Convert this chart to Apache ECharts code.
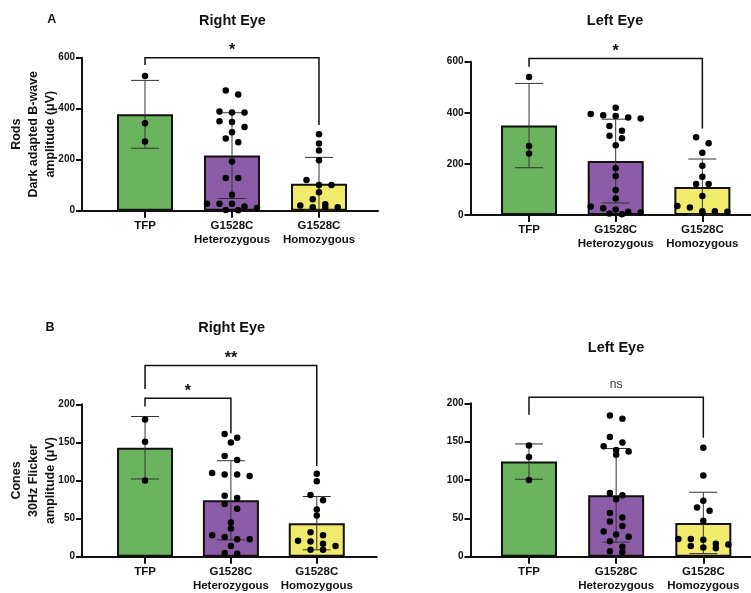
<!DOCTYPE html>
<html><head><meta charset="utf-8">
<script src="https://cdn.jsdelivr.net/npm/echarts@6/dist/echarts.min.js"></script>
<style>html,body{margin:0;padding:0;background:#fff}#c{width:751px;height:593px}</style>
</head><body><div id="c"></div>
<script>
// ---------- DATA ----------
const categories = ['TFP', 'G1528C\nHeterozygous', 'G1528C\nHomozygous'];
const rodsTicks = [0, 200, 400, 600];
const conesTicks = [0, 50, 100, 150, 200];
const rodsYName = 'Rods\nDark adapted B-wave\namplitude (\u03BCV)';
const conesYName = 'Cones\n30Hz Flicker\namplitude (\u03BCV)';

// Rods, right eye
const rodsRightMean = [378, 216, 106];
const rodsRightSD = [133, 168, 103];
const rodsRightTFP = [528, 343, 271];
const rodsRightHet = [471, 456, 389, 385, 385, 351, 348, 328, 308, 283, 268, 193, 128, 128, 63, 27, 27, 27, 16, 11, 3, 2];
const rodsRightHom = [300, 264, 236, 198, 120, 101, 101, 72, 45, 25, 20, 14, 14, 14];
const rodsRightBrackets = [[0, 2, 600, 571, 336, '*']];

// Rods, left eye
const rodsLeftMean = [350, 211, 110];
const rodsLeftSD = [165, 164, 109];
const rodsLeftTFP = [540, 270, 241];
const rodsLeftHet = [420, 395, 390, 387, 382, 378, 348, 330, 310, 300, 273, 183, 153, 98, 65, 33, 26, 22, 13, 10, 6, 3];
const rodsLeftHom = [304, 281, 244, 193, 150, 121, 121, 74, 35, 29, 15, 15, 13, 9];
const rodsLeftBrackets = [[0, 2, 613, 580, 339, '*']];

// Cones, right eye
const conesRightMean = [143, 74, 44];
const conesRightSD = [41, 52, 35];
const conesRightTFP = [180, 151, 100];
const conesRightHet = [161, 156, 150, 132, 127, 110, 108, 108, 106, 80, 77, 69, 63, 45, 37, 28, 26, 23, 23, 14, 5, 4];
const conesRightHom = [109, 99, 81, 74, 62, 54, 32, 28, 21, 20, 17, 14, 9, 9];
const conesRightBrackets = [[0, 1, 208, 197, 162, '*'], [0, 2, 251, 220, 119, '**']];

// Cones, left eye
const conesLeftMean = [124, 80, 44];
const conesLeftSD = [23, 61, 40];
const conesLeftTFP = [145, 130, 100];
const conesLeftHet = [184, 180, 156, 149, 144, 139, 137, 133, 83, 80, 75, 57, 51, 46, 40, 33, 29, 26, 20, 13, 7, 6];
const conesLeftHom = [142, 106, 73, 64, 60, 47, 23, 23, 22, 17, 16, 14, 12, 11];
const conesLeftBrackets = [[0, 2, 208, 185, 155, 'ns']];

// ---------- STYLE / LAYOUT ----------
const FONT = '"Liberation Sans", Arial, Helvetica, sans-serif';
const INK = '#111';
const barColors = ['#6BB35F', '#8D5CA7', '#F1EB6D'];
const DOT_SPACING = 12.5, ROW_PX = 6;

const panels = [
  {mean: rodsRightMean, sd: rodsRightSD, groups: [rodsRightTFP, rodsRightHet, rodsRightHom], brackets: rodsRightBrackets,
   ticks: rodsTicks, yName: rodsYName, title: 'Right Eye', titleXY: [232.5, 20.7], letter: 'A', letterXY: [51.7, 20],
   frame: {left: 82, top: 57.7, width: 296, height: 153}, plot: {left: 101.5, width: 261}},
  {mean: rodsLeftMean, sd: rodsLeftSD, groups: [rodsLeftTFP, rodsLeftHet, rodsLeftHom], brackets: rodsLeftBrackets,
   ticks: rodsTicks, yName: '', title: 'Left Eye', titleXY: [615, 20.7],
   frame: {left: 470.5, top: 61.7, width: 281, height: 153.3}, plot: {left: 485.7, width: 260}},
  {mean: conesRightMean, sd: conesRightSD, groups: [conesRightTFP, conesRightHet, conesRightHom], brackets: conesRightBrackets,
   ticks: conesTicks, yName: conesYName, title: 'Right Eye', titleXY: [231.7, 328.3], letter: 'B', letterXY: [50, 327.3],
   frame: {left: 82, top: 404.3, width: 294.7, height: 152.4}, plot: {left: 102.1, width: 257.6}},
  {mean: conesLeftMean, sd: conesLeftSD, groups: [conesLeftTFP, conesLeftHet, conesLeftHom], brackets: conesLeftBrackets,
   ticks: conesTicks, yName: '', title: 'Left Eye', titleXY: [616, 348.3],
   frame: {left: 470.5, top: 403.3, width: 281, height: 153.4}, plot: {left: 485.4, width: 261.5}}
];

function swarm(values, pxPerUnit, bandPx) {
  const sorted = values.slice().sort((a, b) => b - a);
  const out = [];
  let row = [];
  const flush = () => {
    const n = row.length;
    row.forEach((v, k) => out.push([(k - (n - 1) / 2) * DOT_SPACING / bandPx, v]));
    row = [];
  };
  sorted.forEach(v => {
    if (row.length && (row[0] - v) * pxPerUnit >= ROW_PX) flush();
    row.push(v);
  });
  flush();
  return out;
}

const grid = [], xAxis = [], yAxis = [], series = [], graphic = [];

panels.forEach((p, i) => {
  const yMin = p.ticks[0], yMax = p.ticks[p.ticks.length - 1], interval = p.ticks[1] - p.ticks[0];
  grid.push({left: p.frame.left, top: p.frame.top, width: p.frame.width, height: p.frame.height});
  grid.push({left: p.plot.left, top: p.frame.top, width: p.plot.width, height: p.frame.height});
  const gF = 2 * i, gP = 2 * i + 1;
  // frame axes
  xAxis.push({type: 'value', gridIndex: gF, min: 0, max: 1,
    axisLine: {show: true, lineStyle: {color: INK, width: 2}}, axisTick: {show: false},
    axisLabel: {show: false}, splitLine: {show: false}});
  yAxis.push({type: 'value', gridIndex: gF, min: yMin, max: yMax, interval: interval,
    axisLine: {show: true, lineStyle: {color: INK, width: 2}},
    axisTick: {show: true, length: 6, lineStyle: {color: INK, width: 2}},
    axisLabel: {color: INK, fontFamily: FONT, fontWeight: 'bold', fontSize: 10, margin: 7},
    splitLine: {show: false},
    name: p.yName, nameLocation: 'middle', nameRotate: 90, nameGap: 23.5, nameMoveOverlap: false,
    nameTextStyle: {color: INK, fontFamily: FONT, fontWeight: 'bold', fontSize: 12.5, lineHeight: 16.7}});
  // plot axes
  xAxis.push({type: 'category', gridIndex: gP, data: categories,
    axisLine: {show: false},
    axisTick: {show: true, alignWithLabel: true, length: 7, lineStyle: {color: INK, width: 2}},
    axisLabel: {color: INK, fontFamily: FONT, fontWeight: 'bold', fontSize: 11.5, lineHeight: 14, margin: 8, interval: 0},
    splitLine: {show: false}});
  xAxis.push({type: 'value', gridIndex: gP, min: -0.5, max: 2.5, show: false});
  yAxis.push({type: 'value', gridIndex: gP, min: yMin, max: yMax, show: false});
  const xCat = 3 * i + 1, xVal = 3 * i + 2, yP = 2 * i + 1;

  series.push({type: 'bar', xAxisIndex: xCat, yAxisIndex: yP, barWidth: 56, z: 2,
    data: p.mean.map((m, k) => ({value: m, itemStyle: {color: barColors[k]}})),
    itemStyle: {borderColor: INK, borderWidth: 2}, silent: true});

  series.push({type: 'custom', xAxisIndex: xVal, yAxisIndex: yP, z: 3, clip: false, silent: true,
    data: p.mean.map((m, k) => [k, m, p.sd[k]]), encode: {x: 0, y: 1},
    renderItem: (params, api) => {
      const x = api.value(0), m = api.value(1), s = api.value(2);
      const top = api.coord([x, m + s]), bot = api.coord([x, Math.max(yMin, m - s)]);
      const cap = 14, st = {stroke: '#333', lineWidth: 1};
      return {type: 'group', children: [
        {type: 'line', shape: {x1: top[0], y1: top[1], x2: bot[0], y2: bot[1]}, style: st},
        {type: 'line', shape: {x1: top[0] - cap, y1: top[1], x2: top[0] + cap, y2: top[1]}, style: st},
        {type: 'line', shape: {x1: bot[0] - cap, y1: bot[1], x2: bot[0] + cap, y2: bot[1]}, style: st}
      ]};
    }});

  const pxPerUnit = p.frame.height / (yMax - yMin);
  const bandPx = p.plot.width / 3;
  const dots = [];
  p.groups.forEach((g, k) => swarm(g, pxPerUnit, bandPx).forEach(d => dots.push([k + d[0], d[1]])));
  series.push({type: 'scatter', xAxisIndex: xVal, yAxisIndex: yP, z: 4, clip: false, silent: true,
    symbol: 'circle', symbolSize: 6.5, itemStyle: {color: '#000', opacity: 1}, data: dots});

  const br = p.brackets;
  series.push({type: 'custom', xAxisIndex: xVal, yAxisIndex: yP, z: 5, clip: false, silent: true,
    data: br.map(b => [b[0], b[1], b[2], b[3], b[4]]), encode: {x: 0, y: 2},
    renderItem: (params, api) => {
      const f = api.value(0), t = api.value(1), y = api.value(2), l = api.value(3), r = api.value(4);
      const label = br[params.dataIndex][5];
      const a = api.coord([f, l]), b = api.coord([f, y]), c = api.coord([t, y]), d = api.coord([t, r]);
      const isNs = label === 'ns';
      return {type: 'group', children: [
        {type: 'polyline', shape: {points: [a, b, c, d]}, style: {stroke: INK, lineWidth: 1.5, fill: null}},
        {type: 'text', x: (b[0] + c[0]) / 2, y: b[1] - (isNs ? 12 : 7),
         style: {text: label, fill: isNs ? '#333' : INK,
           font: (isNs ? 'normal 12px ' : 'bold 16px ') + FONT,
           textAlign: 'center', align: 'center', textVerticalAlign: 'middle', verticalAlign: 'middle'}}
      ]};
    }});

  graphic.push({type: 'text', x: p.titleXY[0], y: p.titleXY[1],
    style: {text: p.title, font: 'bold 14.5px ' + FONT, fill: INK, textAlign: 'center', textVerticalAlign: 'middle'}});
  if (p.letter) graphic.push({type: 'text', x: p.letterXY[0], y: p.letterXY[1],
    style: {text: p.letter, font: 'bold 12.5px ' + FONT, fill: INK, textAlign: 'center', textVerticalAlign: 'middle'}});
});

const chart = echarts.init(document.getElementById('c'), null, {renderer: 'canvas'});
chart.setOption({animation: false, backgroundColor: '#fff', grid, xAxis, yAxis, series, graphic});
</script></body></html>
